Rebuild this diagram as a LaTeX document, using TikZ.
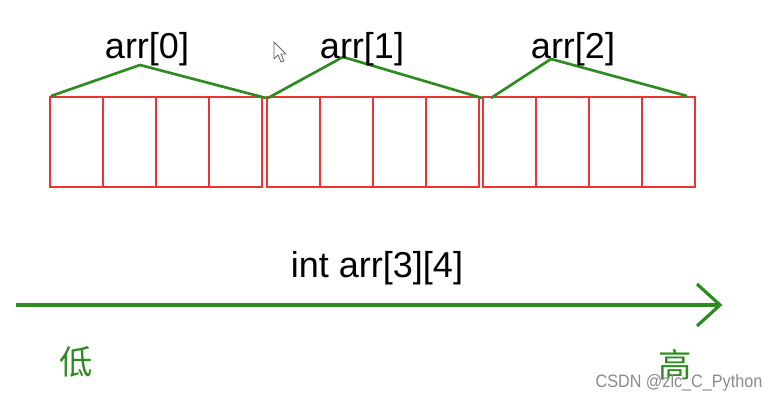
\documentclass[tikz,border=0pt]{standalone}
\usepackage{fontspec}
\setmainfont{Liberation Sans}
\newfontfamily\cjk{Noto Sans CJK SC}
\definecolor{boxred}{HTML}{EE3333}
\definecolor{linegreen}{HTML}{2E8B22}
\definecolor{wmgray}{HTML}{8A8A8A}
\tikzset{
  cellbox/.style={draw=boxred, line width=2pt},
  brace/.style={draw=linegreen, line width=2pt, line join=round},
  axis/.style={draw=linegreen, line width=2.4pt},
  lbl/.style={anchor=base, inner sep=0pt, font=\fontsize{27pt}{30pt}\selectfont},
  cjklbl/.style={inner sep=0pt, text=linegreen, font=\cjk\fontsize{25pt}{28pt}\selectfont},
}
\begin{document}
\begin{tikzpicture}[x=0.75pt, y=-0.75pt]
\useasboundingbox (0,0) rectangle (778,402);
% cells
\foreach \g/\x in {0/50, 1/267, 2/483} {
  \foreach \i in {0,1,2,3} {
    \draw[cellbox] ({\x+53*\i},97) rectangle ({\x+53*(\i+1)},187);
  }
}
% brace coordinates
\coordinate (a0) at (51,96);   \coordinate (p0) at (140,65);  \coordinate (b0) at (266,98);
\coordinate (a1) at (268,98);  \coordinate (p1) at (343,57);  \coordinate (b1) at (482,98);
\coordinate (a2) at (491,98);  \coordinate (p2) at (551,59);  \coordinate (b2) at (687,96);
\draw[brace] (a0) -- (p0) -- (b0);
\draw[brace] (a1) -- (p1) -- (b1);
\draw[brace] (a2) -- (p2) -- (b2);
% labels
\node[lbl] (l0) at (147,59) {arr[0]};
\node[lbl] (l1) at (362,59) {arr[1]};
\node[lbl] (l2) at (573,59) {arr[2]};
\node[lbl] (decl) at (377,278) {int arr[3][4]};
% axis
\coordinate (s) at (16,305);
\coordinate (t) at (720,305);
\coordinate (h1) at (697,284);
\coordinate (h2) at (697,326);
\draw[axis] (s) -- (t);
\draw[axis, line join=miter] (h1) -- (t) -- (h2);
\node[cjklbl] (low) at (76,362) {低};
\node[cjklbl] (high) at (675,365) {高};
% cursor
\draw[draw=black!60, fill=white, line width=0.6pt, line join=round]
  (274,42) -- (274,59) -- (278,55) -- (281,62) -- (284,61) -- (281,54) -- (286,54) -- cycle;
% watermark
\node[inner sep=0pt, text=wmgray, xscale=0.9, font=\fontsize{13.5pt}{15pt}\selectfont] (wm) at (679,383) {CSDN @zlc\_C\_Python};
\end{tikzpicture}
\end{document}
